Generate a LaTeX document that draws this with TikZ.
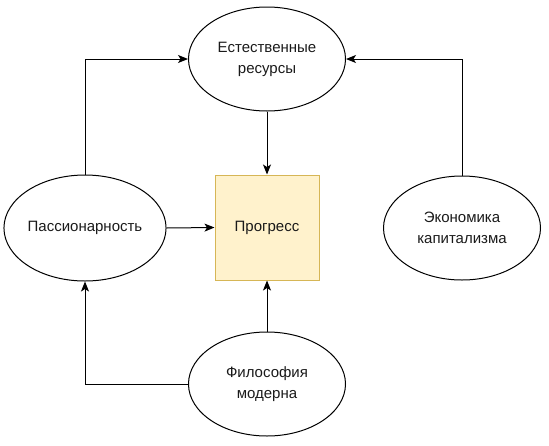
\documentclass[tikz,border=0pt]{standalone}
\usepackage{fontspec}
\setmainfont{Liberation Sans}
\usetikzlibrary{arrows.meta,shapes.geometric}
\definecolor{pfill}{HTML}{FFF2CC}
\definecolor{pdraw}{HTML}{D6B656}
\definecolor{txt}{HTML}{1A1A1A}
\begin{document}
\begin{tikzpicture}[x=1pt,y=-1pt,
  ell/.style={draw=black,line width=1pt,ellipse,minimum width=157pt,minimum height=104pt,inner sep=0pt,align=center,text=txt,font=\fontsize{15pt}{21pt}\selectfont},
  prog/.style={draw=pdraw,fill=pfill,line width=1pt,minimum width=104pt,minimum height=105pt,inner sep=0pt,text=txt,font=\fontsize{15pt}{21pt}\selectfont},
  conn/.style={draw=black,line width=1pt,-{Stealth[length=10pt,width=8pt,inset=2.5pt]}}]
\useasboundingbox (0,0) rectangle (549,445);
\node[ell] (er) at (267,59) {Естественные\\ресурсы};
\node[ell,minimum height=106pt] (pa) at (85,228) {Пассионарность};
\node[ell] (ek) at (462,228) {Экономика\\капитализма};
\node[ell] (fm) at (267,384) {Философия\\модерна};
\node[prog] (pr) at (267,227.5) {Прогресс};
\draw[conn] (pa.north) |- (er.west);
\draw[conn] (ek.north) |- (er.east);
\draw[conn] (er.south) -- (pr.north);
\draw[conn] (pa.east) -- (pr.west);
\draw[conn] (fm.west) -| (pa.south);
\draw[conn] (fm.north) -- (pr.south);
\end{tikzpicture}
\end{document}
